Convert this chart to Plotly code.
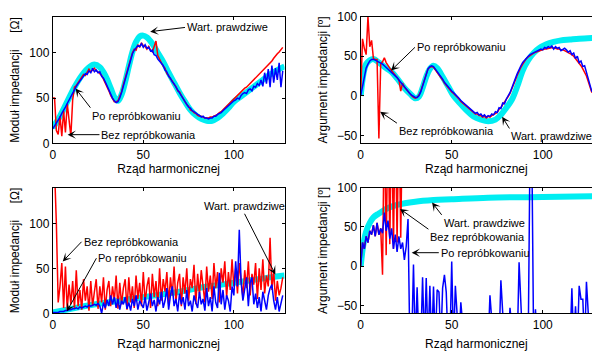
import plotly.graph_objects as go

# ---------------- data ----------------
harm = list(range(128))

# Top-left: impedance modulus [Ohm]
tl_true_h = [0, 4, 8, 12, 16, 20, 23, 26, 29, 32, 34, 36, 38, 40, 42, 44, 46, 48, 50, 52, 55, 58, 61, 64, 67,
             70, 73, 76, 79, 82, 85, 88, 91, 94, 97, 100, 104, 108, 112, 116, 120, 124, 128]
tl_true_v = [17, 30, 46, 62, 75, 84, 87, 84, 75, 61, 51, 47, 54, 68, 85, 101, 112, 118, 119, 117, 110, 100, 90, 78, 67,
             56, 46, 37, 31, 27, 25, 25, 28, 33, 39, 46, 52, 58, 64, 70, 76, 81, 85]
tl_bez = [50, 50, 14, 10, 30, 8, 36, 12, 44, 22, 8, 48, 62, 64, 67, 70, 73, 76, 75, 79,
          82, 79, 81, 83, 80, 79, 77, 75, 71, 67, 62, 58, 53, 49, 46, 46, 47, 52, 57, 65,
          72, 80, 88, 95, 100, 104, 103, 109, 106, 111, 108, 107, 104, 107, 103, 101, 106, 113, 97, 92,
          89, 85, 83, 77, 75, 71, 69, 65, 63, 58, 57, 53, 49, 46, 43, 41, 37, 36, 34, 33,
          31, 30, 30, 29, 28, 28, 28, 29, 29, 30, 31, 32, 34, 35, 37, 39, 41, 43, 45, 47,
          50, 51, 53, 55, 57, 59, 61, 62, 64, 66, 68, 70, 72, 74, 76, 78, 80, 82, 84, 86,
          88, 91, 94, 97, 99, 101, 104, 106]
tl_po = [16, 19, 22, 26, 29, 33, 36, 40, 44, 48, 52, 56, 60, 63, 66, 69, 72, 74, 77, 76,
         80, 78, 83, 79, 81, 78, 79, 74, 72, 68, 63, 59, 55, 50, 47, 45, 46, 50, 56, 63,
         70, 78, 86, 93, 99, 103, 106, 108, 107, 110, 106, 109, 105, 106, 102, 103, 98, 97, 93, 91,
         88, 86, 81, 79, 74, 72, 68, 66, 62, 59, 56, 52, 50, 46, 44, 40, 39, 36, 35, 33,
         32, 31, 29, 30, 28, 28, 27, 28, 28, 30, 30, 32, 33, 34, 36, 38, 39, 41, 44, 45,
         47, 48, 50, 49, 53, 55, 56, 55, 59, 60, 58, 63, 62, 66, 64, 70, 63, 78, 66, 82,
         62, 86, 67, 83, 70, 89, 62, 80]

# Top-right: impedance argument [deg]
tr_true_h = [0, 1, 2, 3, 5, 7, 10, 14, 17, 20, 24, 27, 30, 32, 34, 36, 38, 40, 42, 45, 48, 51, 54, 58, 62,
             66, 70, 74, 77, 80, 83, 86, 89, 92, 95, 98, 102, 106, 110, 115, 120, 128]
tr_true_v = [0, 20, 33, 40, 45, 46.5, 42, 35, 30, 22, 10, 3, -3, -1, 10, 24, 34, 38, 35, 24, 12, 0, -8, -18, -26,
             -30, -32, -30, -24, -15, -5, 12, 32, 45, 54, 60, 65, 68, 70, 71, 72, 73]
tr_bez = [0, 72, 60, 52, 100, 62, 70, 47, 46, 46, -54, 40, 43, 48, 42, 38, 35, 32, 29, 27,
          24, 20, 6, 16, 11, 8, 5, 2, 0, -2, -3, -2, 1, 6, 13, 21, 29, 34, 36, 37,
          36, 33, 30, 27, 23, 20, 16, 13, 11, 8, 5, 3, 1, -2, -4, -7, -9, -12, -14, -16,
          -18, -20, -21, -23, -23, -25, -25, -27, -26, -28, -26, -27, -25, -24, -22, -21, -17, -15, -11, -8,
          -4, -1, 3, 8, 13, 20, 26, 32, 36, 40, 44, 47, 49, 51, 52, 54, 55, 56, 57, 58,
          58, 59, 59, 60, 60, 61, 60, 60, 59, 59, 58, 58, 57, 56, 55, 54, 52, 50, 47, 45,
          41, 38, 34, 30, 25, 18, 10, 4]
tr_po = [0, 12, 26, 35, 40, 44, 46, 46, 45, 44, 43, 41, 40, 38, 36, 34, 32, 30, 28, 26,
         23, 20, 17, 14, 11, 8, 5, 3, 1, -1, -2, -2, 0, 5, 12, 20, 28, 34, 37, 38,
         37, 34, 31, 28, 24, 21, 17, 14, 12, 9, 6, 4, 2, -1, -3, -6, -8, -11, -13, -15,
         -17, -19, -20, -22, -21, -24, -23, -26, -24, -27, -25, -26, -23, -24, -20, -21, -15, -16, -9, -10,
         -4, 0, 4, 10, 15, 22, 28, 34, 38, 42, 45, 48, 50, 52, 53, 55, 56, 57, 58, 59,
         58, 61, 60, 62, 61, 63, 59, 62, 60, 61, 57, 59, 60, 58, 55, 57, 52, 54, 47, 50,
         42, 44, 37, 38, 30, 22, 12, 5]

# Bottom-left: impedance modulus [Ohm]
bl_true_h = [0, 10, 20, 30, 40, 50, 60, 70, 80, 90, 100, 110, 120, 128]
bl_true_v = [1, 5, 9, 12, 15, 18, 21, 24, 28, 31, 34, 37, 40, 42]
bl_bez = [220, 160, 100, 12, 30, 56, 6, 52, 4, 32, 10, 36, 5, 48, 8, 26, 4, 38, 14, 30,
          3, 36, 8, 24, 38, 5, 30, 12, 40, 4, 26, 36, 8, 30, 14, 42, 5, 34, 10, 28,
          38, 4, 40, 12, 30, 6, 42, 16, 34, 8, 46, 12, 30, 40, 6, 44, 18, 36, 8, 50,
          14, 38, 24, 46, 10, 40, 20, 52, 12, 34, 44, 8, 40, 22, 50, 14, 38, 28, 54, 10,
          44, 20, 48, 30, 12, 52, 24, 42, 16, 56, 28, 46, 12, 50, 34, 58, 18, 46, 26, 60,
          30, 50, 22, 56, 40, 18, 48, 28, 58, 20, 44, 32, 56, 16, 50, 26, 60, 22, 42, 30,
          84, 26, 48, 14, 36, 20, 28, 40]
bl_po = [1, 1, 1, 1, 2, 2, 2, 3, 3, 4, 4, 5, 5, 6, 5, 7, 6, 7, 8, 7,
         9, 8, 9, 10, 9, 11, 8, 0, 12, 6, 15, 8, 20, 10, 18, 6, 16, 4, 14, 10,
         18, 5, 12, 3, 16, 8, 20, 4, 14, 10, 6, 18, 3, 12, 22, 8, 15, 2, 18, 10,
         24, 6, 14, 28, 4, 20, 30, 8, 16, 2, 22, 10, 18, 4, 26, 8, 14, 2, 20, 12,
         6, 24, 10, 16, 3, 28, 8, 18, 2, 30, 12, 6, 45, 10, 26, 4, 20, 14, 2, 30,
         20, 58, 30, 93, 35, 14, 28, 40, 8, 34, 40, 10, 22, 6, 18, 2, 24, 12, 4, 20,
         28, 32, 14, 4, 18, 2, 12, 20]

# Bottom-right: impedance argument [deg]
br_true_h = [0, 1, 2, 3, 5, 7, 10, 15, 20, 30, 40, 50, 70, 100, 128]
br_true_v = [0, 20, 34, 44, 55, 62, 67, 74, 78, 82, 84, 85, 87, 88, 89]
br_bez_h = list(range(24))
br_bez = [0, 30, 22, 38, 30, 45, 40, 52, 38, 55, 40, 48, -11, 200, 14, 200, 28, 200, 22, 200,
          30, 200, 36, 200]
br_po = [0, 30, 22, 38, 30, 45, 40, 52, 38, 55, 40, 48, 42, 68, 45, 58, 35, 48, 22, 40,
         18, 38, 22, 30, 8, 25, 60, -100, -100, 2, -100, -27, -100, -100, -14, -100, -15, -100, -25, -100,
         -26, -100, -30, -33, -100, -28, -11, -33, -100, -100, 6, -100, -25, -100, -100, -46, -100, -100, -100, -100,
         -100, -100, -100, -100, -100, -100, -100, -100, -100, -100, -100, -37, -100, -100, -100, -100, -100, -18, -100, -100,
         -100, -100, -53, -100, -100, -100, -100, 5, -100, -100, -100, -100, -100, 150, 150, -100, -55, -100, -100, -100,
         -100, -100, -100, -100, -100, -100, -100, -100, -100, -100, -100, -100, -100, -100, -100, -100, -28, -100, -51, -100,
         -25, -42, -42, -100, -20, -100, -100, -100]

# ---------------- styling ----------------
CYAN = "#00EEF2"
RED = "#FF0000"
BLUE = "#0000FF"
FONT = "Liberation Sans, Arial, Helvetica, sans-serif"

fig = go.Figure()

def add_panel(xa, ya, th, tv, bh, bv, ph, pv):
    fig.add_trace(go.Scatter(x=th, y=tv, mode="lines", line=dict(color=CYAN, width=6, shape="spline"),
                             xaxis=xa, yaxis=ya, showlegend=False, hoverinfo="skip"))
    fig.add_trace(go.Scatter(x=bh, y=bv, mode="lines", line=dict(color=RED, width=1.5),
                             xaxis=xa, yaxis=ya, showlegend=False))
    fig.add_trace(go.Scatter(x=ph, y=pv, mode="lines", line=dict(color=BLUE, width=1.5),
                             xaxis=xa, yaxis=ya, showlegend=False))

add_panel("x", "y", tl_true_h, tl_true_v, harm, tl_bez, harm, tl_po)
add_panel("x2", "y2", tr_true_h, tr_true_v, harm, tr_bez, harm, tr_po)
add_panel("x3", "y3", bl_true_h, bl_true_v, harm, bl_bez, harm, bl_po)
add_panel("x4", "y4", br_true_h, br_true_v, br_bez_h, br_bez, harm, br_po)

def axstyle(**kw):
    d = dict(showline=True, linecolor="black", linewidth=1, mirror="ticks", ticks="inside",
             ticklen=3, tickcolor="black", showgrid=False, zeroline=False,
             tickfont=dict(size=12, color="black", family=FONT))
    d.update(kw)
    return d

def xt(standoff):
    return dict(text="Rząd harmonicznej", font=dict(size=12, color="black", family=FONT), standoff=standoff)

YT_MOD = dict(text="Moduł impedancji\u00a0\u00a0\u00a0\u00a0\u00a0[Ω]",
              font=dict(size=12, color="black", family=FONT), standoff=7)
YT_ARG = dict(text="Argument impedancji [º]",
              font=dict(size=12, color="black", family=FONT), standoff=6)

xl = [50 / 592, 283 / 592]
xr = [359.5 / 592, 1.0]
yt = [1 - 142 / 352, 1 - 10 / 352]
yb = [1 - 319 / 352, 1 - 188 / 352]

fig.update_layout(
    width=592, height=352, margin=dict(l=0, r=0, t=0, b=0),
    paper_bgcolor="white", plot_bgcolor="white", showlegend=False,
    font=dict(family=FONT, size=12, color="black"),
    xaxis=axstyle(domain=xl, range=[0, 128], tickvals=[0, 50, 100], anchor="y", title=xt(1)),
    yaxis=axstyle(domain=yt, range=[0, 140], tickvals=[0, 50, 100], anchor="x", title=YT_MOD),
    xaxis2=axstyle(domain=xr, range=[0, 127.05], tickvals=[0, 50, 100], anchor="y2", title=xt(1)),
    yaxis2=axstyle(domain=yt, range=[-60, 100], tickvals=[-50, 0, 50, 100], anchor="x2",
                   mirror=False, title=YT_ARG),
    xaxis3=axstyle(domain=xl, range=[0, 128], tickvals=[0, 50, 100], anchor="y3", title=xt(8)),
    yaxis3=axstyle(domain=yb, range=[0, 140], tickvals=[0, 50, 100], anchor="x3", title=YT_MOD),
    xaxis4=axstyle(domain=xr, range=[0, 127.05], tickvals=[0, 50, 100], anchor="y4", title=xt(8)),
    yaxis4=axstyle(domain=yb, range=[-60, 100], tickvals=[-50, 0, 50, 100], anchor="x4",
                   mirror=False, title=YT_ARG),
)

def note(xa, ya, head, tail, txt, xanchor="left", yanchor="middle"):
    # text box is anchored at the arrow tail; the arrow points to the head
    fig.add_annotation(xref=xa, yref=ya, axref=xa, ayref=ya, x=head[0], y=head[1],
                       ax=tail[0], ay=tail[1], text=txt, showarrow=True, arrowhead=3,
                       arrowsize=1.4, arrowwidth=1, arrowcolor="black", standoff=0,
                       xanchor=xanchor, yanchor=yanchor,
                       font=dict(size=11, color="black", family=FONT))

# Top-left
note("x", "y", (53.8, 123.4), (73.0, 128.0), "Wart. prawdziwe")
note("x", "y", (12.6, 60.6), (20.8, 39.4), "Po repróbkowaniu", yanchor="top")
note("x", "y", (8.2, 9.6), (25.8, 9.6), "Bez repróbkowania")
# Top-right
note("x2", "y2", (16.7, 32.0), (29.8, 61.2), "Po repróbkowaniu")
note("x2", "y2", (10.7, -20.0), (19.9, -34.5), "Bez repróbkowania", yanchor="top")
note("x2", "y2", (77.7, -26.4), (81.7, -41.2), "Wart. prawdziwe", yanchor="top")
# Bottom-left
note("x3", "y3", (5.5, 57.7), (15.9, 79.6), "Bez repróbkowania")
note("x3", "y3", (7.8, 2.2), (24.1, 61.3), "Po repróbkowaniu")
note("x3", "y3", (122.9, 43.3), (105.9, 110.8), "Wart. prawdziwe", xanchor="center", yanchor="bottom")
# Bottom-right
note("x4", "y4", (39.2, 80.9), (44.5, 65.2), "Wart. prawdziwe", yanchor="top")
note("x4", "y4", (21.6, 72.8), (37.2, 47.0), "Bez repróbkowania", yanchor="top")
note("x4", "y4", (28.0, 17.1), (42.9, 17.1), "Po repróbkowaniu")

fig.write_html("out.html")
